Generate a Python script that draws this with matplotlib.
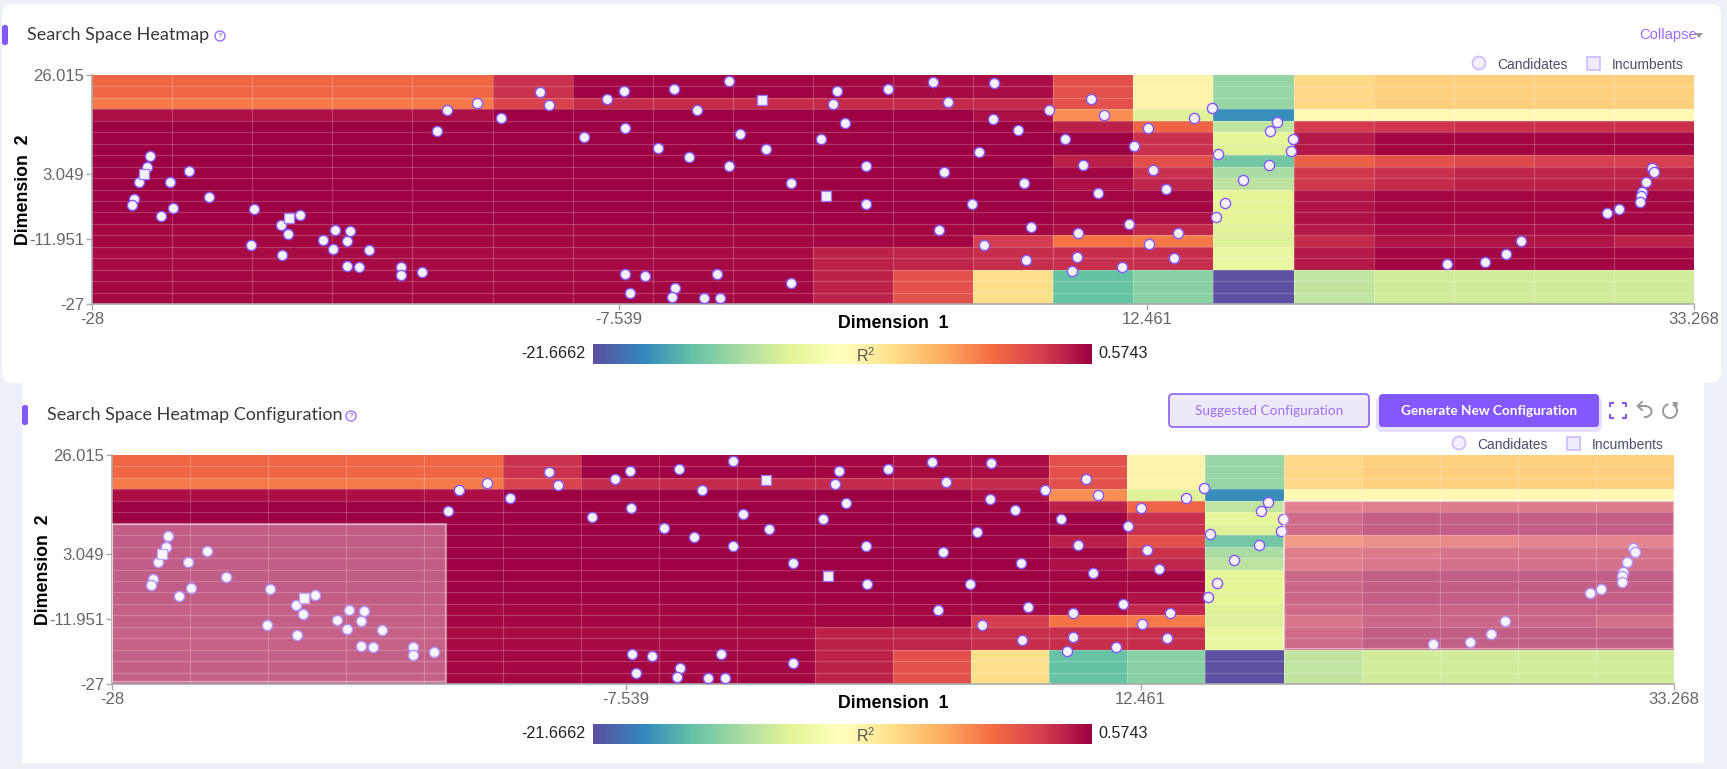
import numpy as np
import matplotlib
matplotlib.use("Agg")
import matplotlib.pyplot as plt
from matplotlib.patches import FancyBboxPatch, Rectangle, Circle, Polygon

plt.rcParams["mathtext.default"] = "regular"
W, H = 1727, 769
SANS = ["Liberation Sans", "DejaVu Sans"]
UI = ["Lato", "DejaVu Sans"]
PURPLE = "#8458FF"

# ---------- data ----------
R2_MIN, R2_MAX = -21.6662, 0.5743
x_tick_pos = [0, 6.58, 13.17, 20]                 # positions on the 20-bin category axis
x_tick_labels = ["-28", "-7.539", "12.461", "33.268"]
y_ticks = [-27, -11.951, 3.049, 26.015]
y_tick_labels = ["-27", "-11.951", "3.049", "26.015"]

# R^2 by row (top to bottom), 20 bins along Dimension 1
r2_rows = [
 [-3.65]*5 + [-1.2, .35, .35, .35, .35, .13, .13, -2.54, -9.66, -15.66, -8.1] + [-7.65]*4,
 [-3.65]*5 + [-1.2, .45, .45, .45, .35, .2, .13, -2.54, -9.66, -15.66, -8.1] + [-7.65]*4,
 [-4.3]*5 + [-1.87] + [-.98]*6 + [-2.54, -9.66, -15.66, -8.1] + [-7.65]*4,
 [.02]*5 + [.5]*6 + [.02, -5.0, -13.0, -19.2] + [-10.1]*5,
 [.5]*11 + [.57, -.65, -3.43, -14.2, -1.65, -1.4, -1.2, -1.2, -1.2],
 [.5]*13 + [-1.2, -12.55, -.32] + [.35]*4,
 [.5]*13 + [-1.2, -13.0, -.32] + [.35]*4,
 [.5]*12 + [-.54, -2.54, -16.77, -3.3, -2.54, -2.2, -1.76, -1.76],
 [.5]*12 + [.35, -1.2, -15.0, -1.43, -1.2, -.76, -.76, -.76],
 [.5]*11 + [.55, .02, -.76, -14.3, -1.43, -1.0, -.65, -.65, -.65],
 [.5]*12 + [.35, .35, -12.77, -.2] + [.35]*4,
 [.5]*12 + [.35, .35, -12.77, -.2] + [.35]*4,
 [.45]*12 + [.35, -.09, -12.77, -.09] + [.4]*4,
 [.3]*11 + [.25, .02, -.85, -13.0, -.32] + [.13]*4,
 [.3]*9 + [.4, .4, -1.65, -4.1, -4.3, -13.1, -.98, -.2, -.2, -.2, -.65],
 [.2]*9 + [-.65, -.76, -1.09, -1.09, -1.09, -12.3, -.32] + [.35]*4,
 [.2]*9 + [-.65, -.76, -1.09, -1.09, -1.09, -12.3, -.32] + [.35]*4,
 [.25]*9 + [-.65, -2.54, -8.3, -17.2, -16.1, -21.67, -14.2] + [-13.55]*4,
 [.25]*9 + [-.65, -2.54, -8.3, -17.2, -16.1, -21.67, -14.2] + [-13.55]*4,
 [.25]*9 + [-.65, -2.54, -8.3, -17.2, -16.1, -21.67, -14.2] + [-13.55]*4,
]

candidates_x = [
 .72, .686, .59, .978, 1.216, .524, .50, 1.46, 1.011, .863, 2.024, 2.597, 2.358, 2.449, 3.032, 3.223,
 2.884, 3.185, 3.008, 3.462, 1.986, 2.368, 3.185, 3.338, 3.854, 3.859, 4.12, 4.303, 4.437, 4.805, 5.10,
 5.593, 5.708,
 7.95, 6.636, 7.262, 6.435, 7.558, 9.307, 9.938, 10.497, 11.256, 9.254, 10.683, 11.247, 9.402, 6.65,
 6.144, 8.084, 9.106, 7.071, 8.409, 7.458, 11.07, 7.955, 9.66, 10.64, 8.724, 9.665, 10.989, 10.578,
 11.137, 6.655, 6.908, 7.797, 8.724, 7.276, 6.713, 7.238, 7.635, 7.845,
 12.468, 11.952, 12.631, 11.565, 12.148, 13.003, 12.368, 13.252, 11.637, 12.564, 13.41, 11.728, 12.311,
 12.941, 13.553, 13.19, 11.656, 12.301, 13.505, 12.234, 12.86, 13.983, 13.754, 13.18, 14.80, 14.709,
 14.991, 14.972, 14.055, 14.69, 14.365, 14.15, 14.036, 16.916, 17.385, 17.652, 17.839,
 19.47, 19.5, 19.40, 19.35, 19.34, 19.33, 19.06, 18.92,
]
candidates_y = [
 7.26, 4.64, 1.24, 1.24, 3.79, -2.61, -4.08, -2.23, -4.70, -6.55, -5.01, -6.47, -8.63, -10.80, -9.87, -10.18,
 -12.26, -12.49, -14.19, -14.50, -13.26, -15.73, -18.20, -18.51, -18.36, -20.21, -19.52, 12.97, 17.84, 19.46, 16.06,
 22.0, 19.07,
 24.70, 22.39, 22.85, 20.46, 17.99, 22.39, 22.85, 24.32, 24.16, 19.30, 19.84, 15.91, 14.90, 13.67,
 11.66, 12.28, 11.20, 9.04, 8.81, 6.95, 8.27, 4.95, 4.87, 3.56, .93, -3.85, -3.77, -9.87,
 -13.26, -20.06, -20.60, -20.06, -22.06, -23.30, -24.38, -25.46, -25.61, -25.61,
 20.38, 17.91, 16.75, 13.36, 11.20, 9.58, 5.26, 4.10, .93, -1.30, -.38, -9.10, -10.56,
 -8.40, -10.56, -13.19, -16.89, -16.12, -16.43, -19.36, -18.51, 18.30, 16.06, 13.67, 15.21, 13.13,
 11.20, 8.42, 7.65, 5.10, 1.71, -3.70, -6.94, -17.74, -17.36, -15.43, -12.42,
 4.55, 3.56, 1.31, -1.07, -1.93, -3.32, -5.01, -6.0,
]
incumbents_x = [.643, 2.463, 8.37, 9.168]
incumbents_y = [3.02, -7.01, 20.15, -1.92]

# selected regions in the configuration chart: x0, x1, y0, y1
selections = [(0, 4.28, -26.5, 10.11), (15.0, 20, -18.97, 15.37)]

# ---------- figure & page ----------
fig = plt.figure(figsize=(W/100, H/100), dpi=100, facecolor="#EDF0F6")
bg = fig.add_axes([0, 0, 1, 1], zorder=0)
bg.set_xlim(0, W); bg.set_ylim(H, 0); bg.axis("off")


def card(x0, y0, x1, y1, r=8, z=1):
    bg.add_patch(FancyBboxPatch((x0+r, y0+r), x1-x0-2*r, y1-y0-2*r,
                                boxstyle=f"round,pad={r},rounding_size={r}",
                                fc="white", ec="none", zorder=z))


card(22, 375, 1704, 763, r=2, z=1)
card(2, 4, 1721, 383, r=12, z=2)


def pill(x0, y0, x1, y1, fc, ec="none", r=3, lw=1.2, z=4, alpha=1):
    bg.add_patch(FancyBboxPatch((x0+r, y0+r), x1-x0-2*r, y1-y0-2*r,
                                boxstyle=f"round,pad={r},rounding_size={r}",
                                fc=fc, ec=ec, lw=lw, zorder=z, alpha=alpha))


def header(title, x_bar, x_text, x_help, y):
    pill(x_bar, y-10, x_bar+6, y+10, PURPLE, r=2.5)
    bg.text(x_text, y, title, family=UI, fontsize=13, color="#3A3A3A", va="center", ha="left", zorder=5)
    bg.add_patch(Circle((x_help, y+1), 5, fc="white", ec="#9A72FF", lw=1, zorder=5))
    bg.text(x_help, y+1, "?", family=SANS, fontsize=5.5, color="#8458FF", va="center", ha="center", zorder=6)


def legend(xc, y):
    bg.add_patch(Circle((xc, y), 6.5, fc="#F3EFFF", ec="#CDBBFF", lw=1.2, zorder=5))
    bg.text(xc+18, y+2, "Candidates", family=SANS, fontsize=10, color="#4A4F68", va="center", zorder=5)
    bg.add_patch(Rectangle((xc+108, y-6.5), 13, 13, fc="#F0ECFF", ec="#CDBBFF", lw=1.2, zorder=5))
    bg.text(xc+133, y+2, "Incumbents", family=SANS, fontsize=10, color="#4A4F68", va="center", zorder=5)


def heatmap(x0, y0, x1, y1, ylabel_x):
    ax = fig.add_axes([x0/W, 1-y1/H, (x1-x0)/W, (y1-y0)/H], zorder=3)
    xe = np.arange(21)
    ye = np.linspace(26.015, -27, 21)
    m = ax.pcolormesh(xe, ye, np.array(r2_rows), cmap="Spectral_r", vmin=R2_MIN, vmax=R2_MAX, zorder=1)
    ax.hlines(ye[1:-1], 0, 20, colors="white", alpha=.2, lw=.9, zorder=2)
    ax.vlines(xe[1:-1], -27, 26.015, colors="white", alpha=.2, lw=.9, zorder=2)
    ax.set_xlim(0, 20); ax.set_ylim(-27, 26.015)
    ax.scatter(candidates_x, candidates_y, s=54, marker="o", fc="#F4F0FF", ec="#8458FF", lw=1, zorder=3, clip_on=False)
    ax.scatter(incumbents_x, incumbents_y, s=62, marker="s", fc="#F4F0FF", ec="#9A78FF", lw=.9, zorder=4, clip_on=False)
    ax.set_xticks(x_tick_pos, x_tick_labels)
    ax.set_yticks(y_ticks, y_tick_labels)
    ax.tick_params(length=4.3, width=1, color="#AAAAAA", labelcolor="#666666", labelsize=12, pad=1.5)
    for lab in ax.get_xticklabels() + ax.get_yticklabels():
        lab.set_family(SANS)
    for s in ("top", "right"):
        ax.spines[s].set_visible(False)
    for s in ("left", "bottom"):
        ax.spines[s].set_color("#AAAAAA"); ax.spines[s].set_linewidth(1.2)
    ax.set_xlabel("Dimension  1", family=SANS, fontweight="bold", fontsize=12.8, color="black", va="center")
    ax.xaxis.set_label_coords(.5, -19.7/(y1-y0))
    ax.set_ylabel("Dimension  2", family=SANS, fontweight="bold", fontsize=12.8, color="black", va="center")
    ax.yaxis.set_label_coords((ylabel_x-x0)/(x1-x0), .5)
    return ax, m


def colorbar(mesh, x0, y0, x1, y1):
    cax = fig.add_axes([x0/W, 1-y1/H, (x1-x0)/W, (y1-y0)/H], zorder=3)
    cb = fig.colorbar(mesh, cax=cax, orientation="horizontal")
    cb.set_ticks([]); cb.outline.set_visible(False)
    cax.text(.546, .42, r"R$^{2}$", transform=cax.transAxes, family=SANS, fontsize=11.5, color="#555555",
             ha="center", va="center")
    ym = (y0+y1)/2 - 1
    bg.text(x0-7, ym, f"{R2_MIN:.4f}", family=SANS, fontsize=11.6, color="#222222", ha="right", va="center", zorder=5)
    bg.text(x1+6, ym, f"{R2_MAX:.4f}", family=SANS, fontsize=11.6, color="#222222", ha="left", va="center", zorder=5)


# ---------- top panel ----------
header("Search Space Heatmap", 2, 27.5, 220, 35)
bg.text(1639, 35, "Collapse", family=SANS, fontsize=10.6, color="#9A6CFF", va="center", zorder=5)
bg.add_patch(Polygon([[1695, 33], [1703, 33], [1699, 38]], fc="#999999", ec="none", zorder=5))
legend(1479, 63)
ax1, mesh1 = heatmap(92, 75, 1694, 304, 24)
colorbar(mesh1, 593, 344, 1092, 364)

# ---------- bottom panel ----------
header("Search Space Heatmap Configuration", 22, 47.5, 351, 415)
pill(1169, 394, 1369, 427, "#EEEAF9", ec="#8B60FA", r=4, lw=1.2)
bg.text(1269, 411, "Suggested Configuration", family=UI, fontsize=9.8, color="#9B72F8", ha="center", va="center", zorder=5)
pill(1376, 396, 1602, 432, "#8458FF", r=6, z=3, alpha=.18)
pill(1379, 394, 1599, 427, "#8458FF", r=4)
bg.text(1489, 411, "Generate New Configuration", family=UI, fontsize=9.8, fontweight="bold", color="white",
        ha="center", va="center", zorder=5)
# toolbar icons
fx, fy, a, b = 1618, 410, 8, 7.5
for sx in (-1, 1):
    for sy in (-1, 1):
        bg.plot([fx+sx*a, fx+sx*a, fx+sx*(a-4)], [fy+sy*(b-4), fy+sy*b, fy+sy*b],
                color="#8458FF", lw=1.5, zorder=5, solid_capstyle="butt")
t = np.radians(np.linspace(-90, 90, 30))
bg.plot(1645+6.5*np.cos(t), 411.5+5.5*np.sin(t), color="#999999", lw=1.4, zorder=5)
bg.plot([1645, 1638], [406, 406], color="#999999", lw=1.4, zorder=5)
bg.plot([1642, 1637.5, 1642], [402, 406, 410], color="#999999", lw=1.4, zorder=5)
t = np.radians(np.linspace(-60, 250, 40))
bg.plot(1670+7*np.cos(t), 411+7*np.sin(t), color="#999999", lw=1.4, zorder=5)
bg.add_patch(Polygon([[1672, 402], [1678, 402], [1677, 408]], fc="#999999", ec="none", zorder=5))
legend(1459, 443)
ax2, mesh2 = heatmap(112, 455, 1674, 684, 43)
for (sx0, sx1, sy0, sy1) in selections:
    ax2.add_patch(Rectangle((sx0, sy0), sx1-sx0, sy1-sy0, fc=(1, 1, 1, .36), ec=(1, 1, 1, .45), lw=1.6, zorder=5))
colorbar(mesh2, 593, 724, 1092, 744)

fig.savefig("out.png", dpi=100, facecolor=fig.get_facecolor())
